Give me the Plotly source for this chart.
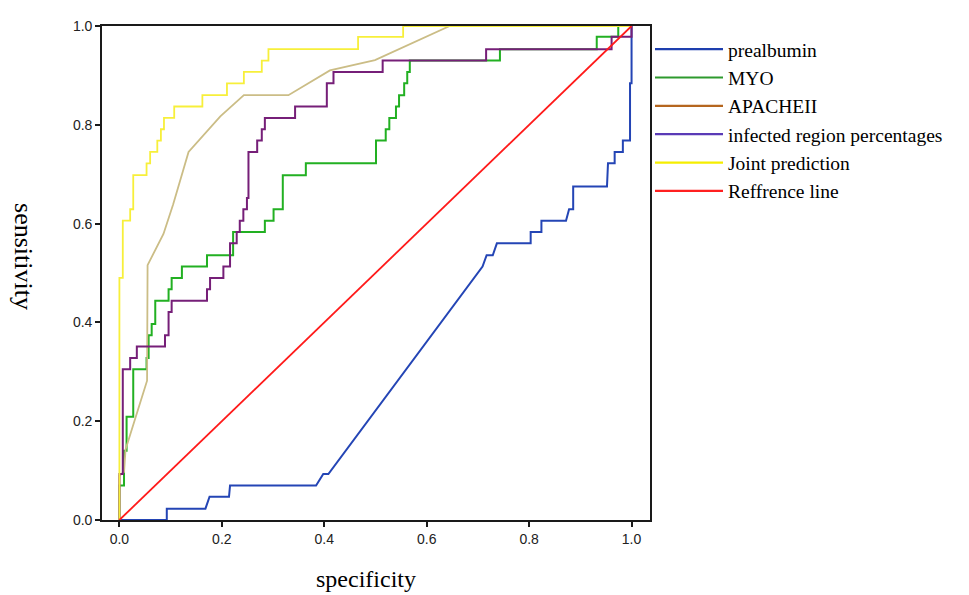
import plotly.graph_objects as go

# ---------------- data (1 - specificity on x, sensitivity on y) ----------------
# prealbumin (piecewise linear)
pre_x = [0, 0.0925, 0.0925, 0.168, 0.176, 0.214, 0.216, 0.384, 0.398, 0.408, 0.709, 0.717,
         0.729, 0.737, 0.803, 0.803, 0.824, 0.824, 0.872, 0.878, 0.886, 0.886, 0.952, 0.954,
         0.967, 0.967, 0.983, 0.983, 0.997, 0.997, 1.0, 1.0]
pre_y = [0, 0, 0.023, 0.023, 0.047, 0.047, 0.070, 0.070, 0.093, 0.093, 0.513, 0.536,
         0.536, 0.560, 0.560, 0.583, 0.583, 0.606, 0.606, 0.629, 0.629, 0.675, 0.675, 0.722,
         0.722, 0.745, 0.745, 0.768, 0.768, 0.884, 0.884, 1.0]

# MYO (step curve, 'vh')
myo_x = [0, 0.009, 0.014, 0.027, 0.053, 0.057, 0.063, 0.070, 0.096, 0.102, 0.122, 0.171,
         0.222, 0.284, 0.301, 0.319, 0.364, 0.501, 0.520, 0.527, 0.540, 0.546, 0.556, 0.562,
         0.567, 0.743, 0.932, 0.974, 1.0]
myo_y = [0, 0.070, 0.140, 0.209, 0.305, 0.328, 0.374, 0.397, 0.444, 0.467, 0.490, 0.513,
         0.536, 0.583, 0.606, 0.629, 0.698, 0.722, 0.768, 0.791, 0.814, 0.837, 0.860, 0.884,
         0.907, 0.930, 0.953, 0.978, 1.0]

# APACHEII (piecewise linear)
apa_x = [0, 0, 0.009, 0.012, 0.054, 0.055, 0.086, 0.105, 0.135, 0.197, 0.243, 0.330,
         0.411, 0.499, 0.645, 1.0]
apa_y = [0, 0.090, 0.097, 0.143, 0.282, 0.516, 0.579, 0.639, 0.745, 0.817, 0.860, 0.860,
         0.910, 0.931, 1.0, 1.0]

# infected region percentages (step curve, 'vh')
inf_x = [0, 0.0066, 0.021, 0.034, 0.089, 0.096, 0.102, 0.171, 0.177, 0.203, 0.216, 0.229,
         0.235, 0.242, 0.249, 0.252, 0.269, 0.278, 0.284, 0.343, 0.405, 0.418, 0.514, 0.716,
         0.961, 1.0, 1.0]
inf_y = [0, 0.093, 0.305, 0.328, 0.351, 0.374, 0.421, 0.444, 0.467, 0.490, 0.513, 0.560,
         0.583, 0.606, 0.629, 0.652, 0.745, 0.768, 0.791, 0.814, 0.837, 0.884, 0.907, 0.930,
         0.953, 0.978, 1.0]

# Joint prediction (step curve, 'vh')
joint_x = [0, 0.0066, 0.021, 0.027, 0.053, 0.060, 0.074, 0.081, 0.087, 0.107, 0.162, 0.210,
           0.243, 0.278, 0.291, 0.466, 0.554, 1.0]
joint_y = [0, 0.490, 0.606, 0.629, 0.698, 0.722, 0.745, 0.768, 0.791, 0.814, 0.837, 0.860,
           0.884, 0.907, 0.930, 0.953, 0.978, 1.0]

# Reference line
ref_x = [0, 1]
ref_y = [0, 1]

names = ["prealbumin", "MYO", "APACHEII", "infected region percentages",
         "Joint prediction", "Reffrence line"]
curve_colors = ["#2445B5", "#22B022", "#CBBD86", "#761F78", "#F7EF3A", "#FF1A1A"]
legend_colors = ["#1E3FAE", "#2E9A2E", "#B5661F", "#5A3AB6", "#F5EE00", "#FF2020"]

ticks = [0.0, 0.2, 0.4, 0.6, 0.8, 1.0]
tick_text = ["0.0", "0.2", "0.4", "0.6", "0.8", "1.0"]

series = [
    (pre_x, pre_y, "linear", 2.0),
    (myo_x, myo_y, "vh", 2.0),
    (apa_x, apa_y, "linear", 1.8),
    (inf_x, inf_y, "vh", 2.0),
    (joint_x, joint_y, "vh", 1.8),
    (ref_x, ref_y, "linear", 1.8),
]

fig = go.Figure()
for (xs, ys, shape, w), name, col in zip(series, names, curve_colors):
    fig.add_trace(go.Scatter(x=xs, y=ys, mode="lines", name=name, legendgroup=name,
                             showlegend=False, line=dict(color=col, width=w, shape=shape)))
for name, col in zip(names, legend_colors):
    fig.add_trace(go.Scatter(x=[None], y=[None], mode="lines", name=name, legendgroup=name,
                             showlegend=True, line=dict(color=col, width=2.2)))

axis_common = dict(
    showgrid=False, zeroline=False, showline=True, linecolor="#1a1a1a", linewidth=1.6,
    mirror=True, ticks="outside", ticklen=5, tickwidth=1.6, tickcolor="#1a1a1a",
    tickvals=ticks, ticktext=tick_text,
    tickfont=dict(family="Liberation Sans, Arial, sans-serif", size=14, color="#222222"),
)

# the page body adds an 8px offset, so margins are compensated
fig.update_layout(
    width=969, height=595,
    margin=dict(l=94, r=327, t=10, b=83),
    paper_bgcolor="white", plot_bgcolor="white",
    xaxis=dict(range=[-0.034, 1.036], **axis_common),
    yaxis=dict(range=[0, 1.0], **axis_common),
    legend=dict(
        x=1.0, xanchor="left", y=0.992, yanchor="top",
        font=dict(family="Liberation Serif, Times New Roman, serif", size=19.5, color="black"),
        itemwidth=68, bgcolor="rgba(0,0,0,0)", tracegroupgap=0,
    ),
    annotations=[
        dict(text="specificity", xref="paper", yref="paper", x=0.482, y=-0.1195,
             xanchor="center", yanchor="middle", showarrow=False,
             font=dict(family="Liberation Serif, Times New Roman, serif", size=24, color="black")),
        dict(text="sensitivity", xref="paper", yref="paper", x=-0.142, y=0.534,
             xanchor="center", yanchor="middle", showarrow=False, textangle=90,
             font=dict(family="Liberation Serif, Times New Roman, serif", size=26, color="black")),
    ],
)

fig.write_html("out.html")
